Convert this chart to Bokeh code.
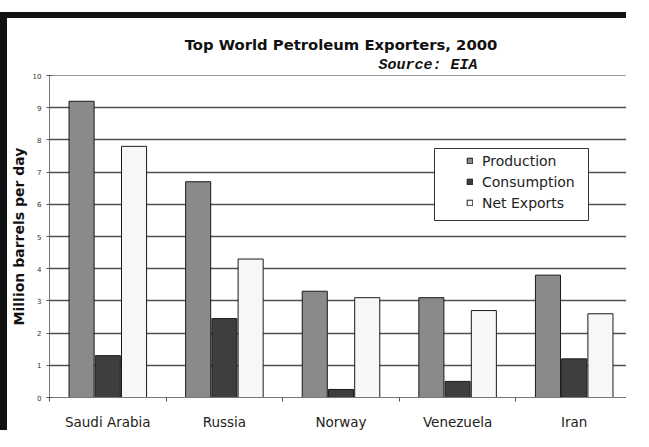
from bokeh.plotting import figure
from bokeh.models import (ColumnDataSource, Range1d, FixedTicker, Title, Legend,
                          LegendItem, BoxAnnotation)
from bokeh.transform import dodge
from bokeh.embed import file_html
from bokeh.resources import INLINE

countries = ["Saudi Arabia", "Russia", "Norway", "Venezuela", "Iran"]
production = [9.2, 6.7, 3.3, 3.1, 3.8]
consumption = [1.3, 2.45, 0.25, 0.5, 1.2]
net_exports = [7.8, 4.3, 3.1, 2.7, 2.6]
y_ticks = [0, 1, 2, 3, 4, 5, 6, 7, 8, 9, 10]

n = len(countries)
centres = [i + 0.5 for i in range(n)]          # slot centre of each country
src = ColumnDataSource(dict(pos=centres, country=countries, production=production,
                            consumption=consumption, net=net_exports))

FONT = "DejaVu Sans"

p = figure(x_range=Range1d(0, n), y_range=Range1d(0, 10), title=None,
           width=626, height=418, output_backend="svg", toolbar_location=None,
           min_border_left=38, min_border_right=1, min_border_top=57, min_border_bottom=39,
           background_fill_color="white", border_fill_color="white")
p.styles = {"border-top": "6px solid #111111", "border-left": "7px solid #111111", "margin-top": "12px"}

p.outline_line_color = "#9a9a9a"
p.outline_line_width = 1

r1 = p.vbar(x=dodge("pos", -0.225), top="production", width=0.215,
            source=src, fill_color="#8a8a8a", line_color="#1a1a1a", line_width=1)
r2 = p.vbar(x=dodge("pos", 0.0), top="consumption", width=0.215,
            source=src, fill_color="#3e3e3e", line_color="#1a1a1a", line_width=1)
r3 = p.vbar(x=dodge("pos", 0.225), top="net", width=0.215,
            source=src, fill_color="#f7f7f7", line_color="#1a1a1a", line_width=1)

# grid
p.xgrid.grid_line_color = None
p.ygrid.ticker = FixedTicker(ticks=y_ticks)
p.ygrid.grid_line_color = "#505050"
p.ygrid.grid_line_width = 1.5
p.ygrid.level = "underlay"

# y axis
p.yaxis.ticker = FixedTicker(ticks=y_ticks)
p.yaxis.axis_label = "Million barrels per day"
p.yaxis.axis_label_text_font = FONT
p.yaxis.axis_label_text_font_style = "bold"
p.yaxis.axis_label_text_font_size = "14px"
p.yaxis.axis_label_text_color = "#111111"
p.yaxis.axis_label_standoff = 3
p.yaxis.major_label_text_font = FONT
p.yaxis.major_label_text_font_size = "7px"
p.yaxis.major_label_text_color = "#333333"
p.yaxis.major_label_standoff = 5
p.yaxis.axis_line_color = "#777777"
p.yaxis.major_tick_line_color = "#555555"
p.yaxis.major_tick_in = 3
p.yaxis.major_tick_out = 3
p.yaxis.minor_tick_line_color = None

# x axis: labels at category centres, small ticks at category boundaries
p.xaxis.ticker = FixedTicker(ticks=centres, minor_ticks=list(range(n + 1)))
p.xaxis.major_label_overrides = {c: name for c, name in zip(centres, countries)}
p.xaxis.major_label_text_font = FONT
p.xaxis.major_label_text_font_size = "13.5px"
p.xaxis.major_label_text_color = "#222222"
p.xaxis.major_label_standoff = 10
p.xaxis.axis_line_color = "#777777"
p.xaxis.major_tick_line_color = None
p.xaxis.minor_tick_line_color = "#555555"
p.xaxis.minor_tick_in = 0
p.xaxis.minor_tick_out = 4

# titles: first added sits nearest to the plot frame
p.add_layout(Title(text="Source: EIA", align="right", offset=155, standoff=4,
                   text_font="Liberation Mono", text_font_style="bold italic",
                   text_font_size="15px", text_color="#111111"), "above")
p.add_layout(Title(text="Top World Petroleum Exporters, 2000", align="center",
                   standoff=0, text_font=FONT, text_font_style="bold",
                   text_font_size="14.8px", text_color="#111111"), "above")

# legend frame
p.add_layout(BoxAnnotation(left=385, right=539, bottom=177, top=249,
                           left_units="screen", right_units="screen",
                           bottom_units="screen", top_units="screen",
                           fill_color="white", fill_alpha=1,
                           line_color="#333333", line_width=1, line_alpha=1))

legend = Legend(items=[LegendItem(label="Production", renderers=[r1]),
                       LegendItem(label="Consumption", renderers=[r2]),
                       LegendItem(label="Net Exports", renderers=[r3])],
                location=(417, 184))
legend.label_text_font = FONT
legend.label_text_font_size = "14px"
legend.label_text_color = "#222222"
legend.glyph_width = 7
legend.glyph_height = 7
legend.label_standoff = 9
legend.label_height = 21
legend.spacing = 0
legend.padding = 0
legend.border_line_color = None
legend.background_fill_alpha = 0
p.add_layout(legend, "center")

open("out.html", "w").write(file_html(p, INLINE))
